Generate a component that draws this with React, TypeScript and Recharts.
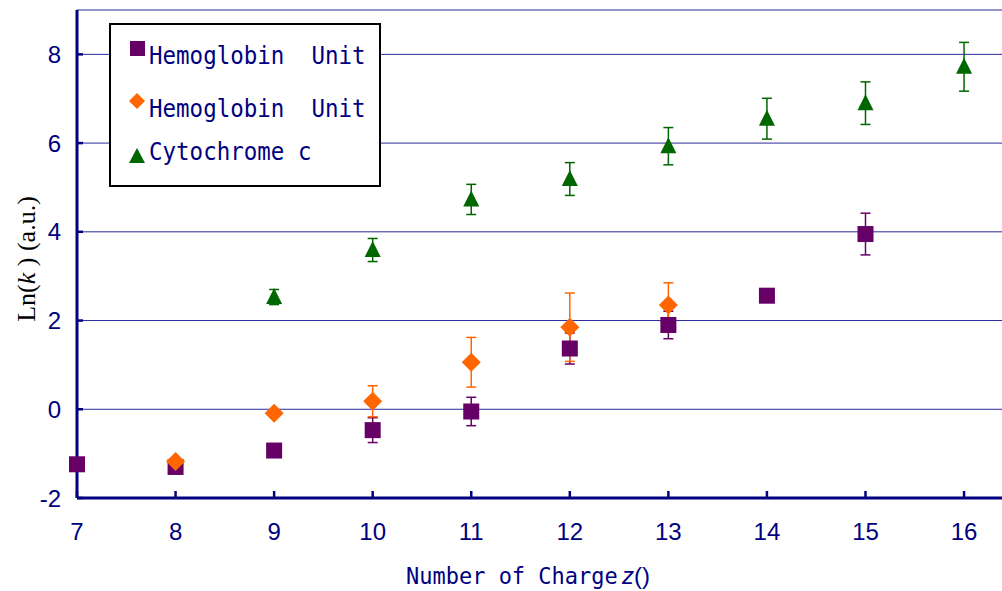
import { CartesianGrid, ErrorBar, Legend, Scatter, ScatterChart, XAxis, YAxis } from "recharts";

const NAVY = "#000080";
const PURPLE = "#660066";
const ORANGE = "#FF6600";
const GREEN = "#006600";

// Hemoglobin Unit (squares)
const hbCharge = [7, 8, 9, 10, 11, 12, 13, 14, 15];
const hbLnK = [-1.24, -1.3, -0.93, -0.47, -0.05, 1.37, 1.9, 2.56, 3.95];
const hbErr = [0, 0, 0, 0.28, 0.32, 0.35, 0.31, 0, 0.47];

// Hemoglobin Unit (diamonds)
const hb2Charge = [8, 9, 10, 11, 12, 13];
const hb2LnK = [-1.18, -0.09, 0.18, 1.06, 1.85, 2.35];
const hb2Err = [0, 0, 0.35, 0.56, 0.77, 0.5];

// Cytochrome c (triangles)
const cytCharge = [9, 10, 11, 12, 13, 14, 15, 16];
const cytLnK = [2.53, 3.59, 4.73, 5.19, 5.93, 6.55, 6.9, 7.72];
const cytErr = [0.17, 0.26, 0.34, 0.37, 0.42, 0.46, 0.48, 0.55];

const xTicks = [7, 8, 9, 10, 11, 12, 13, 14, 15, 16];
const yTicks = [-2, 0, 2, 4, 6, 8];

const legendLabels = ["Hemoglobin  Unit", "Hemoglobin  Unit", "Cytochrome c"];

const toPoints = (xs: number[], ys: number[], es: number[]) =>
  xs.map((x, i) => ({ x, y: ys[i], err: es[i] }));

const hbData = toPoints(hbCharge, hbLnK, hbErr);
const hb2Data = toPoints(hb2Charge, hb2LnK, hb2Err);
const cytData = toPoints(cytCharge, cytLnK, cytErr);

const Square = (p: any) => <rect x={p.cx - 8} y={p.cy - 8} width={16} height={16} fill={PURPLE} />;
const Diamond = (p: any) => (
  <polygon
    points={`${p.cx},${p.cy - 9.5} ${p.cx + 9.5},${p.cy} ${p.cx},${p.cy + 9.5} ${p.cx - 9.5},${p.cy}`}
    fill={ORANGE}
  />
);
const Triangle = (p: any) => (
  <polygon
    points={`${p.cx},${p.cy - 9} ${p.cx + 8},${p.cy + 7} ${p.cx - 8},${p.cy + 7}`}
    fill={GREEN}
  />
);

const XTick = ({ x, y, payload }: any) => (
  <g>
    <line x1={x} y1={y} x2={x} y2={y - 7} stroke={NAVY} strokeWidth={2.5} />
    <text x={x} y={y + 42} textAnchor="middle" fontFamily="Liberation Sans, Arial" fontSize={24} fill={NAVY}>
      {payload.value}
    </text>
  </g>
);

const YTick = ({ x, y, payload }: any) => (
  <g>
    <line x1={x} y1={y} x2={x + 6} y2={y} stroke={NAVY} strokeWidth={2.5} />
    <text x={x - 16} y={y + 8.5} textAnchor="end" fontFamily="Liberation Sans, Arial" fontSize={24} fill={NAVY}>
      {payload.value}
    </text>
  </g>
);

const XLabel = ({ viewBox }: any) => {
  const left = viewBox.x + 329;
  const base = viewBox.y + 86;
  return (
    <g fill={NAVY}>
      <text
        transform={`translate(${left} ${base}) scale(1 1.08)`}
        fontFamily="DejaVu Sans Mono"
        fontSize={22}
        style={{ whiteSpace: "pre" }}
      >
        Number of Charge
      </text>
      <text x={left + 216} y={base} fontFamily="Liberation Sans, Arial" fontSize={24}>
        <tspan fontStyle="italic">z</tspan>
        <tspan>()</tspan>
      </text>
    </g>
  );
};

const YLabel = ({ viewBox }: any) => {
  const cx = 35;
  const cy = viewBox.y + 249;
  return (
    <text
      x={cx}
      y={cy}
      transform={`rotate(-90 ${cx} ${cy})`}
      textAnchor="middle"
      fontFamily="Liberation Serif, Times New Roman"
      fontSize={26}
      fill="#000"
    >
      Ln(<tspan fontStyle="italic">k</tspan> ) (a.u.)
    </text>
  );
};

const rowBase = [41, 94, 137];

const LegendBox = () => (
  <svg width={276} height={165} style={{ display: "block" }}>
    <rect x={1} y={1} width={270} height={162} fill="#fff" stroke="#000" strokeWidth={2} />
    <rect x={21} y={18} width={15} height={15} fill={PURPLE} />
    <polygon points="28,70 36,78 28,86 20,78" fill={ORANGE} />
    <polygon points="28,125 36,140 20,140" fill={GREEN} />
    {legendLabels.map((label, i) => (
      <text
        key={i}
        transform={`translate(40 ${rowBase[i]}) scale(1 1.12)`}
        fontFamily="DejaVu Sans Mono"
        fontSize={22.5}
        fill={NAVY}
        style={{ whiteSpace: "pre" }}
      >
        {label}
      </text>
    ))}
  </svg>
);

export default function App() {
  return (
    <div style={{ position: "absolute", left: 0, top: 0, background: "#fff" }}>
      <ScatterChart width={1002} height={591} margin={{ top: 10, right: 0, bottom: 0, left: 0 }}>
        <CartesianGrid horizontal vertical={false} stroke="#2a2a9a" strokeWidth={1} />
        <XAxis
          type="number"
          dataKey="x"
          domain={[7, 16.385]}
          ticks={xTicks}
          interval={0}
          height={93}
          tickSize={0}
          tickMargin={0}
          tickLine={false}
          axisLine={{ stroke: NAVY, strokeWidth: 3 }}
          tick={<XTick />}
          label={<XLabel />}
        />
        <YAxis
          type="number"
          dataKey="y"
          domain={[-2, 9]}
          ticks={yTicks}
          interval={0}
          width={77}
          tickSize={0}
          tickMargin={0}
          tickLine={false}
          axisLine={{ stroke: NAVY, strokeWidth: 3 }}
          tick={<YTick />}
          label={<YLabel />}
        />
        <Legend
          layout="vertical"
          align="center"
          verticalAlign="middle"
          content={<LegendBox />}
          wrapperStyle={{ left: 109, top: 23, width: 276, height: 165 }}
        />
        <Scatter name="Hemoglobin  Unit" data={hbData} shape={Square} isAnimationActive={false}>
          <ErrorBar dataKey="err" direction="y" width={5} strokeWidth={1.5} stroke={PURPLE} />
        </Scatter>
        <Scatter name="Hemoglobin  Unit " data={hb2Data} shape={Diamond} isAnimationActive={false}>
          <ErrorBar dataKey="err" direction="y" width={5} strokeWidth={1.5} stroke={ORANGE} />
        </Scatter>
        <Scatter name="Cytochrome c" data={cytData} shape={Triangle} isAnimationActive={false}>
          <ErrorBar dataKey="err" direction="y" width={5} strokeWidth={1.5} stroke={GREEN} />
        </Scatter>
      </ScatterChart>
    </div>
  );
}
